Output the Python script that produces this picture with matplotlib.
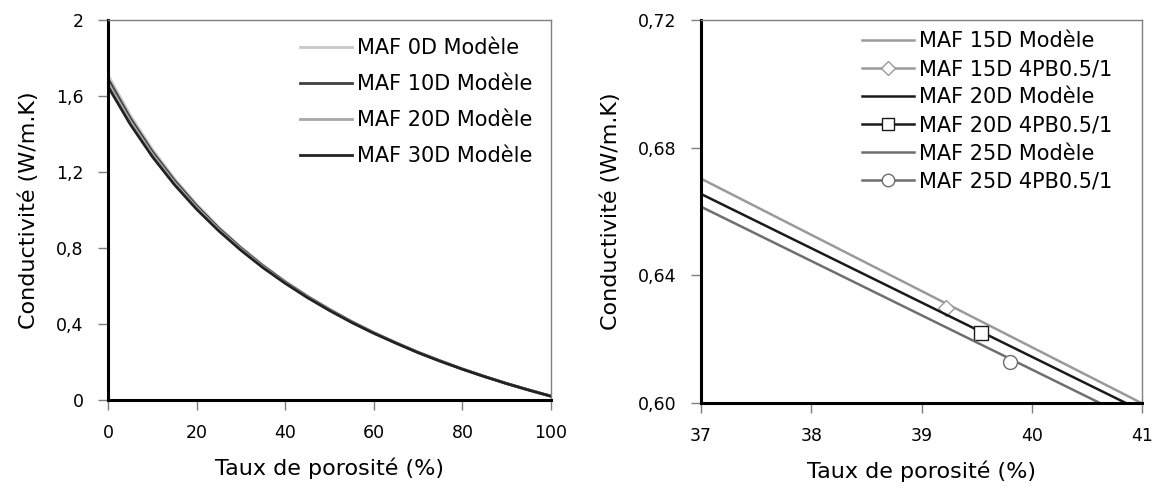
import numpy as np
import matplotlib
matplotlib.use("Agg")
import matplotlib.pyplot as plt
from matplotlib.ticker import FuncFormatter

plt.rcParams["font.family"] = ["DejaVu Sans"]

# left panel: model curves, conductivity vs porosity
porosity = [0, 5, 10, 15, 20, 25, 30, 35, 40, 45, 50,
            55, 60, 65, 70, 75, 80, 85, 90, 95, 100]
maf_0d = [1.710, 1.500, 1.320, 1.165, 1.030, 0.910, 0.805, 0.710, 0.625, 0.548, 0.478,
          0.414, 0.356, 0.302, 0.252, 0.207, 0.164, 0.124, 0.087, 0.053, 0.020]
maf_10d = [1.690, 1.484, 1.307, 1.155, 1.022, 0.904, 0.800, 0.706, 0.621, 0.545, 0.476,
           0.412, 0.354, 0.301, 0.251, 0.206, 0.163, 0.124, 0.087, 0.053, 0.020]
maf_20d = [1.670, 1.468, 1.294, 1.144, 1.013, 0.897, 0.794, 0.701, 0.617, 0.542, 0.473,
           0.410, 0.353, 0.300, 0.250, 0.205, 0.163, 0.123, 0.086, 0.052, 0.020]
maf_30d = [1.650, 1.452, 1.281, 1.133, 1.004, 0.890, 0.788, 0.696, 0.614, 0.539, 0.471,
           0.408, 0.351, 0.299, 0.249, 0.204, 0.162, 0.123, 0.086, 0.052, 0.020]
left_labels = ["MAF 0D Modèle", "MAF 10D Modèle", "MAF 20D Modèle", "MAF 30D Modèle"]
left_colors = ["#c8c8c8", "#404040", "#a8a8a8", "#222222"]

# right panel: model lines + measured points
x_model = [37, 41]
m15 = [0.6703, 0.5999]
m20 = [0.6655, 0.5975]
m25 = [0.6615, 0.5935]
x_15_meas, y_15_meas = [39.22], [0.6299]
x_20_meas, y_20_meas = [39.54], [0.6218]
x_25_meas, y_25_meas = [39.80], [0.6128]

W, H = 1159, 492
fig = plt.figure(figsize=(W / 100, H / 100), dpi=100)
ax1 = fig.add_axes([108 / W, 1 - 400 / H, 443 / W, 380 / H])
ax2 = fig.add_axes([701 / W, 1 - 403 / H, 441 / W, 383 / H])

comma = FuncFormatter(lambda v, _: ("%g" % v).replace(".", ","))
comma2 = FuncFormatter(lambda v, _: ("%.2f" % v).replace(".", ","))


def style_axes(ax):
    for side in ["left", "bottom"]:
        ax.spines[side].set_linewidth(2.2)
        ax.spines[side].set_color("black")
    for side in ["top", "right"]:
        ax.spines[side].set_linewidth(1.0)
        ax.spines[side].set_color("#7f7f7f")
    ax.tick_params(direction="out", length=7, width=1.0, color="#7f7f7f",
                   labelsize=12.5, pad=10.5, top=False, right=False)
    ax.set_xlabel("Taux de porosité (%)", fontsize=16, labelpad=11)
    ax.set_ylabel("Conductivité (W/m.K)", fontsize=16, labelpad=12)


for ys, lab, col in zip([maf_0d, maf_10d, maf_20d, maf_30d], left_labels, left_colors):
    ax1.plot(porosity, ys, color=col, lw=2.0, label=lab)
ax1.set_xlim(0, 100)
ax1.set_ylim(0, 2)
ax1.set_xticks([0, 20, 40, 60, 80, 100])
ax1.set_yticks([0, 0.4, 0.8, 1.2, 1.6, 2])
ax1.yaxis.set_major_formatter(comma)
style_axes(ax1)
ax1.legend(loc="upper left", bbox_to_anchor=(300 / W, 1 - 38 / H), bbox_transform=fig.transFigure,
           frameon=False, fontsize=15, handlelength=2.5, handletextpad=0.25,
           labelspacing=0.77, borderpad=0, borderaxespad=0)

ax2.plot(x_model, m15, color="#9a9a9a", lw=1.8, label="MAF 15D Modèle")
ax2.plot(x_15_meas, y_15_meas, color="#9a9a9a", lw=1.8, marker="D", ms=8,
         mfc="white", mec="#9a9a9a", label="MAF 15D 4PB0.5/1")
ax2.plot(x_model, m20, color="#1a1a1a", lw=1.8, label="MAF 20D Modèle")
ax2.plot(x_20_meas, y_20_meas, color="#1a1a1a", lw=1.8, marker="s", ms=9.5,
         mfc="white", mec="#1a1a1a", label="MAF 20D 4PB0.5/1")
ax2.plot(x_model, m25, color="#6e6e6e", lw=1.8, label="MAF 25D Modèle")
ax2.plot(x_25_meas, y_25_meas, color="#6e6e6e", lw=1.8, marker="o", ms=10,
         mfc="white", mec="#6e6e6e", label="MAF 25D 4PB0.5/1")
ax2.set_xlim(37, 41)
ax2.set_ylim(0.60, 0.72)
ax2.set_xticks([37, 38, 39, 40, 41])
ax2.set_yticks([0.60, 0.64, 0.68, 0.72])
ax2.yaxis.set_major_formatter(comma2)
style_axes(ax2)
ax2.legend(loc="upper left", bbox_to_anchor=(862 / W, 1 - 31 / H), bbox_transform=fig.transFigure,
           frameon=False, fontsize=15, handlelength=2.5, handletextpad=0.25,
           labelspacing=0.39, borderpad=0, borderaxespad=0, markerscale=0.9)

fig.savefig("out.png", dpi=100)
